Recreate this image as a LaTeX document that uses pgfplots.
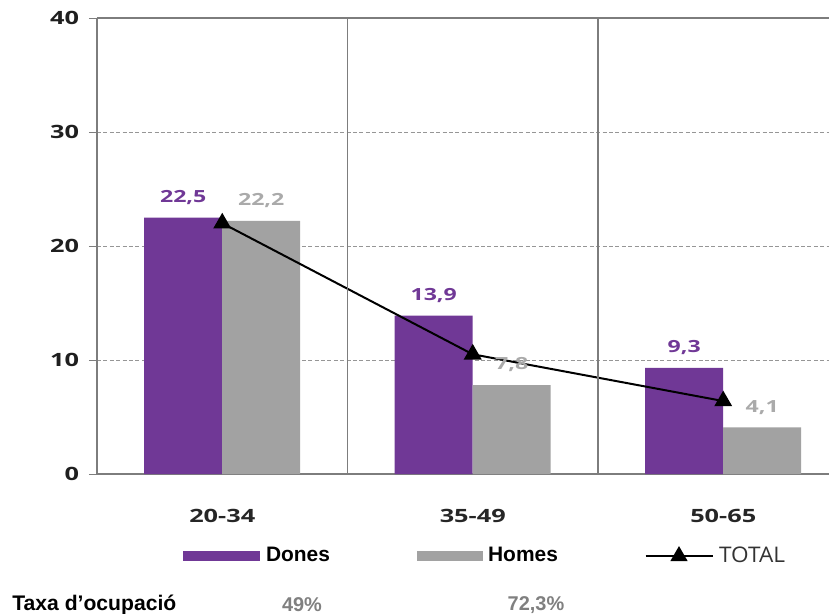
\documentclass[border=0pt]{standalone}
\usepackage{fontspec}
\usepackage{pgfplots}
\pgfplotsset{compat=1.18}
\setmainfont{Liberation Sans}
\newfontfamily\axfont[FakeStretch=1.38]{Open Sans}
\newfontfamily\osfont[FakeStretch=1.05]{Open Sans}
\definecolor{dones}{RGB}{112,56,150}
\definecolor{homes}{RGB}{162,162,162}
\definecolor{homesl}{RGB}{170,170,170}
\definecolor{gridc}{RGB}{150,150,150}
\definecolor{axc}{RGB}{125,125,125}
\definecolor{pctc}{RGB}{128,128,128}
\begin{document}
\begin{tikzpicture}[x=1bp,y=1bp]
\path[use as bounding box] (-48.5,-70) rectangle (366,237);
\begin{axis}[
  at={(0,0)}, anchor=south west,
  scale only axis, width=366bp, height=228bp,
  xmin=-0.5, xmax=2.4223, ymin=0, ymax=40,
  axis x line*=box, axis y line*=left,
  axis line style={axc, line width=0.6bp},
  ytick={0,10,20,30,40},
  xtick={0,1,2}, xticklabels={20-34,35-49,50-65},
  xtick style={draw=none},
  ytick style={axc, line width=0.5bp},
  tick align=outside, major tick length=4bp,
  ymajorgrids,
  grid style={gridc, dash pattern=on 2bp off 1.2bp, line width=0.5bp},
  /pgf/number format/assume math mode=true,
  /pgf/number format/fixed,
  /pgf/number format/precision=1,
  /pgf/number format/fixed zerofill,
  /pgf/number format/use comma,
  yticklabel style={font=\axfont\bfseries\fontsize{9.2}{10}\selectfont, color=black!88, xshift=-1.5bp},
  yticklabel={\pgfmathprintnumber[precision=0,fixed zerofill=false]{\tick}},
  xticklabel style={font=\axfont\bfseries\fontsize{9.2}{10}\selectfont, color=black!85, yshift=-10bp},
  legend style={at={(0.1175,-0.18)}, anchor=west, draw=none, fill=none, inner sep=0pt,
    legend columns=3,
    /tikz/every even column/.append style={column sep=40.5bp},
    nodes={inner sep=2.8bp}},
  legend cell align=left,
]
\addplot[ybar, bar width=39bp, bar shift=-19.5bp, fill=dones, draw=none,
  nodes near coords,
  every node near coord/.append style={font=\axfont\bfseries\fontsize{8.4}{10}\selectfont, color=dones, yshift=3bp, xshift=-19.5bp},
  legend image code/.code={\fill[dones] (0bp,-2.6bp) rectangle (38.5bp,2.6bp);}]
  coordinates {(0,22.5) (1,13.9) (2,9.3)};
\addlegendentry{\bfseries\fontsize{10.5}{12}\selectfont Dones}
\addplot[ybar, bar width=39bp, bar shift=19.5bp, fill=homes, draw=none,
  nodes near coords,
  every node near coord/.append style={font=\axfont\bfseries\fontsize{8.4}{10}\selectfont, color=homesl, yshift=3bp, xshift=19.5bp},
  legend image code/.code={\fill[homes] (0bp,-2.6bp) rectangle (33bp,2.6bp);}]
  coordinates {(0,22.2) (1,7.8) (2,4.1)};
\addlegendentry{\bfseries\fontsize{10.5}{12}\selectfont Homes}
\addplot[black, line width=1bp, mark=triangle*, mark size=4.2bp,
  legend image code/.code={\draw[black, line width=1bp] (0bp,0bp) -- (33.5bp,0bp);
     \draw[black] plot[mark=triangle*, mark size=4bp] coordinates {(16.75bp,0bp)};}]
  coordinates {(0,22.0) (1,10.5) (2,6.4)};
\addlegendentry{\osfont\fontsize{10.8}{12}\selectfont\color{black!80}TOTAL}
\draw[axc, line width=0.6bp] (axis cs:0.5,-1.25) -- (axis cs:0.5,40);
\draw[axc, line width=0.6bp] (axis cs:1.5,-1.25) -- (axis cs:1.5,40);
\end{axis}
\node[anchor=west, font=\bfseries\fontsize{10.6}{12}\selectfont, inner sep=0pt] at (-42.5,-65.5) {Taxa d’ocupació};
\node[font=\bfseries\fontsize{10}{12}\selectfont, color=pctc, inner sep=0pt] at (102.5,-65.5) {49\%};
\node[font=\bfseries\fontsize{10}{12}\selectfont, color=pctc, inner sep=0pt] at (219.5,-65.5) {72,3\%};
\end{tikzpicture}
\end{document}
